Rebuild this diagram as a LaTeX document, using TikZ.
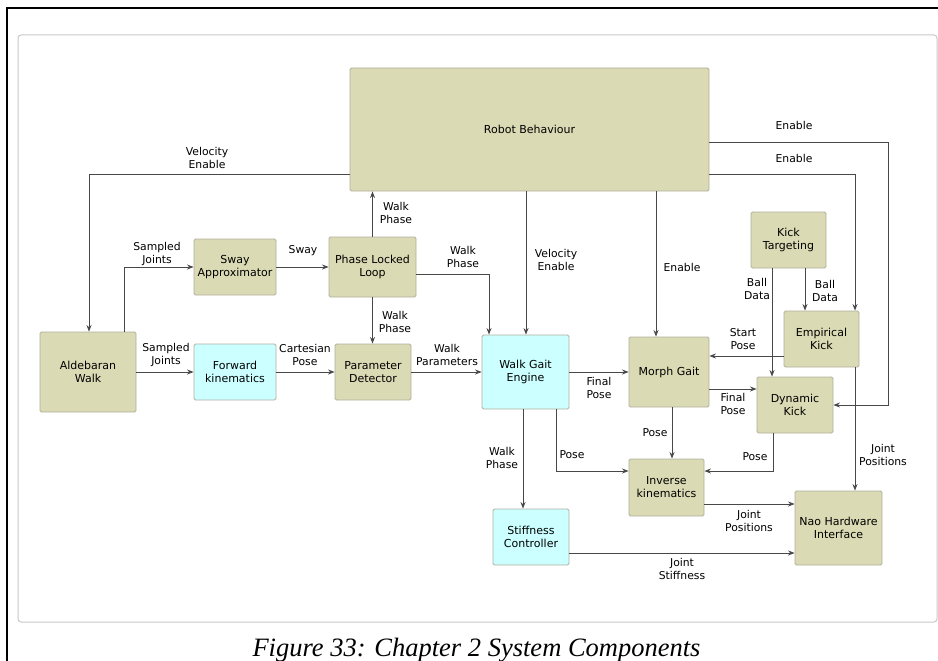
\documentclass[tikz,border=0pt]{standalone}
\usepackage{fontspec}
\usetikzlibrary{arrows.meta}
\newfontfamily\dvs{DejaVu Sans}
\newfontfamily\capf{Liberation Serif}
\definecolor{olivefill}{RGB}{218,218,180}
\definecolor{cyanfill}{RGB}{204,255,255}
\definecolor{boxedge}{RGB}{178,178,160}
\definecolor{linecol}{RGB}{72,72,72}
\definecolor{framegrey}{RGB}{200,200,200}
\tikzset{
  box/.style={draw=boxedge, fill=olivefill, rounded corners=1.5pt, line width=0.9pt,
    align=center, inner sep=0pt, font=\dvs\fontsize{11}{13}\selectfont},
  cbox/.style={box, fill=cyanfill},
  conn/.style={draw=linecol, line width=0.9pt, -{Stealth[length=6.5pt,width=5pt]}},
  lbl/.style={font=\dvs\fontsize{10.8}{12.4}\selectfont, align=center, inner sep=0pt, text=black}
}
\begin{document}
\begin{tikzpicture}[x=1pt,y=-1pt]
\useasboundingbox (0,0) rectangle (938,661);
\fill[white] (0,0) rectangle (938,661);
% page frame
\draw[black, line width=1.4pt] (7,661) -- (7,8) -- (938,8);
% inner frame
\draw[framegrey, line width=1pt, rounded corners=3pt] (18,35) rectangle (937,622);

% nodes
\node[box, minimum width=359, minimum height=123] (RB) at (529.5,129.5) {Robot Behaviour};
\node[box, minimum width=82, minimum height=56] (SW) at (235,267) {Sway\\Approximator};
\node[box, minimum width=87, minimum height=60] (PLL) at (372.5,267) {Phase Locked\\Loop};
\node[box, minimum width=96, minimum height=80] (AW) at (88,372) {Aldebaran\\Walk};
\node[cbox, minimum width=82, minimum height=56] (FK) at (235,372) {Forward\\kinematics};
\node[box, minimum width=76, minimum height=56] (PD) at (373,372) {Parameter\\Detector};
\node[cbox, minimum width=87, minimum height=74] (WGE) at (525.5,372) {Walk Gait\\Engine};
\node[box, minimum width=80, minimum height=70] (MG) at (669,372) {Morph Gait};
\node[box, minimum width=75, minimum height=56] (KT) at (788.5,240) {Kick\\Targeting};
\node[box, minimum width=75, minimum height=56] (EK) at (821.5,339) {Empirical\\Kick};
\node[box, minimum width=76, minimum height=56] (DK) at (795,405) {Dynamic\\Kick};
\node[box, minimum width=75, minimum height=57] (IK) at (666.5,487.5) {Inverse\\kinematics};
\node[box, minimum width=87, minimum height=74] (NH) at (838.5,528) {Nao Hardware\\Interface};
\node[cbox, minimum width=76, minimum height=56] (SC) at (531,537) {Stiffness\\Controller};

% connectors
\draw[conn] (RB.west |- 0,174) -| (89,0 |- AW.north);
\draw[conn] (124,0 |- AW.north) |- (SW.west);
\draw[conn] (AW.east |- FK.west) -- (FK.west);
\draw[conn] (SW.east) -- (PLL.west);
\draw[conn] (FK.east) -- (PD.west);
\draw[conn] (PLL.north) -- (PLL.north |- RB.south);
\draw[conn] (PLL.south) -- (PLL.south |- PD.north);
\draw[conn] (PLL.east |- 0,274) -| (489,0 |- WGE.north);
\draw[conn] (PD.east) -- (WGE.west);
\draw[conn] (526,0 |- RB.south) -- (526,0 |- WGE.north);
\draw[conn] (656,0 |- RB.south) -- (656,0 |- MG.north);
\draw[conn] (RB.east |- 0,174) -| (855,0 |- EK.north);
\draw[conn] (RB.east |- 0,142) -| (888,0 |- DK.east) -- (DK.east);
\draw[conn] (805,0 |- KT.south) -- (805,0 |- EK.north);
\draw[conn] (772,0 |- KT.south) -- (772,0 |- DK.north);
\draw[conn] (EK.west |- 0,356) -- (MG.east |- 0,356);
\draw[conn] (MG.east |- 0,389) -- (DK.west |- 0,389);
\draw[conn] (WGE.east) -- (MG.west);
\draw[conn] (672,0 |- MG.south) -- (672,0 |- IK.north);
\draw[conn] (556,0 |- WGE.south) |- (IK.west |- 0,471);
\draw[conn] (773,0 |- DK.south) |- (IK.east |- 0,471);
\draw[conn] (523,0 |- WGE.south) -- (523,0 |- SC.north);
\draw[conn] (IK.east |- 0,504) -- (NH.west |- 0,504);
\draw[conn] (SC.east |- 0,553) -- (NH.west |- 0,553);
\draw[conn] (855,0 |- EK.south) -- (855,0 |- NH.north);

% labels
\node[lbl] (l1) at (207,158) {Velocity\\Enable};
\node[lbl] (l2) at (157,254) {Sampled\\Joints};
\node[lbl] (l3) at (166,355) {Sampled\\Joints};
\node[lbl] (l4) at (303,251) {Sway};
\node[lbl] (l5) at (305,355) {Cartesian\\Pose};
\node[lbl] (l6) at (396,213) {Walk\\Phase};
\node[lbl] (l7) at (395,322) {Walk\\Phase};
\node[lbl] (l8) at (463,257) {Walk\\Phase};
\node[lbl] (l9) at (447,355) {Walk\\Parameters};
\node[lbl] (l10) at (556,260) {Velocity\\Enable};
\node[lbl] (l11) at (682,267) {Enable};
\node[lbl] (l12) at (794,158) {Enable};
\node[lbl] (l13) at (794,125) {Enable};
\node[lbl] (l14) at (825,291) {Ball\\Data};
\node[lbl] (l15) at (757,289) {Ball\\Data};
\node[lbl] (l16) at (743,339) {Start\\Pose};
\node[lbl] (l17) at (733,404) {Final\\Pose};
\node[lbl] (l18) at (599,388) {Final\\Pose};
\node[lbl] (l19) at (655,433) {Pose};
\node[lbl] (l20) at (572,455) {Pose};
\node[lbl] (l21) at (755,457) {Pose};
\node[lbl] (l22) at (502,458) {Walk\\Phase};
\node[lbl] (l23) at (749,521) {Joint\\Positions};
\node[lbl] (l24) at (682,569) {Joint\\Stiffness};
\node[lbl] (l25) at (883,455) {Joint\\Positions};

% caption
\node[inner sep=0pt, anchor=base, font=\capf\itshape\fontsize{26.5}{30}\selectfont] (cap) at (476.5,656) {Figure 33: Chapter 2 System Components};
\end{tikzpicture}
\end{document}
